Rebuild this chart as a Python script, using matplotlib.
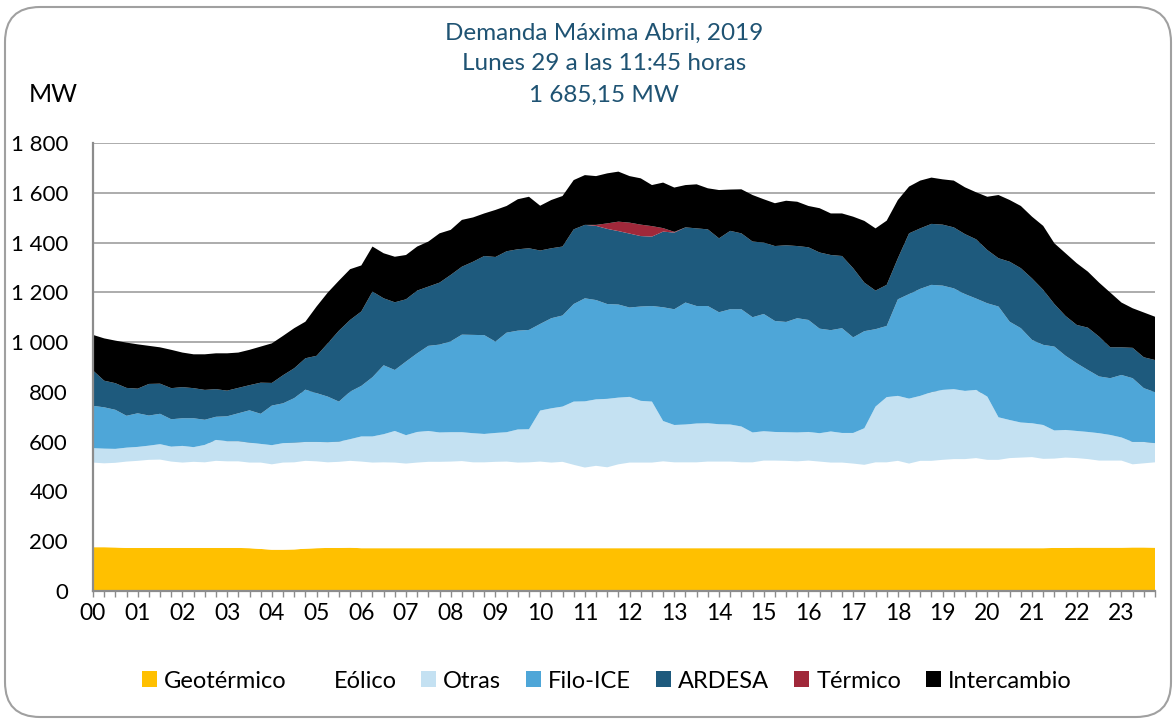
import numpy as np
import matplotlib
matplotlib.use("Agg")
import matplotlib.pyplot as plt
from matplotlib.patches import FancyBboxPatch, Patch

plt.rcParams['font.family'] = ['Lato', 'DejaVu Sans']

# 15-minute intervals, 00:00 .. 23:45 (96 points)
hour_labels = ['00', '01', '02', '03', '04', '05', '06', '07', '08', '09', '10', '11',
               '12', '13', '14', '15', '16', '17', '18', '19', '20', '21', '22', '23']

# Stack levels (MW, cumulative top of each layer)
geotermico_top = [176, 176, 175, 173, 173, 173, 173, 173, 173, 173, 173, 173,
                  173, 173, 172, 169, 166, 166, 167, 170, 172, 173, 173, 174,
                  172, 172, 172, 172, 172, 172, 172, 172, 172, 172, 172, 172,
                  172, 172, 172, 172, 172, 172, 172, 172, 172, 172, 172, 172,
                  172, 172, 172, 172, 172, 172, 172, 172, 172, 172, 172, 172,
                  172, 172, 172, 172, 172, 172, 172, 172, 172, 172, 172, 172,
                  172, 172, 172, 172, 172, 172, 172, 172, 172, 172, 172, 172,
                  172, 172, 173, 173, 174, 174, 174, 174, 174, 175, 175, 174]

eolico_top = [516, 513, 515, 520, 523, 527, 528, 520, 516, 519, 517, 523,
              521, 521, 516, 516, 509, 516, 517, 523, 521, 517, 519, 523,
              520, 516, 517, 516, 512, 516, 519, 519, 520, 522, 517, 517,
              519, 520, 516, 517, 520, 516, 519, 507, 496, 503, 497, 509,
              516, 516, 516, 521, 517, 517, 517, 520, 520, 520, 517, 517,
              524, 524, 523, 521, 524, 520, 516, 516, 512, 507, 517, 517,
              523, 512, 523, 523, 527, 530, 530, 534, 527, 527, 534, 536,
              538, 531, 532, 536, 534, 530, 524, 524, 524, 509, 513, 517]

otras_top = [574, 572, 571, 576, 579, 584, 590, 580, 583, 578, 587, 607,
             602, 602, 596, 591, 586, 594, 596, 599, 599, 598, 600, 610,
             621, 621, 630, 643, 626, 639, 643, 637, 638, 638, 634, 631,
             635, 638, 649, 650, 725, 734, 741, 761, 762, 770, 772, 777,
             780, 764, 761, 683, 667, 669, 673, 674, 670, 669, 661, 637,
             642, 639, 638, 637, 639, 634, 641, 635, 635, 654, 741, 779,
             784, 773, 784, 799, 808, 811, 804, 808, 781, 698, 687, 677,
             674, 667, 645, 647, 643, 639, 634, 627, 617, 599, 599, 594]

filo_top = [744, 738, 728, 704, 714, 705, 712, 690, 694, 694, 688, 700,
            702, 714, 726, 712, 745, 754, 775, 809, 795, 781, 761, 801,
            824, 859, 907, 888, 922, 955, 985, 990, 1003, 1030, 1029, 1028,
            1002, 1038, 1046, 1049, 1073, 1096, 1107, 1153, 1176, 1169, 1153, 1151,
            1139, 1143, 1145, 1140, 1132, 1159, 1145, 1145, 1120, 1132, 1132, 1100,
            1113, 1085, 1081, 1096, 1089, 1054, 1048, 1056, 1019, 1044, 1052, 1065,
            1172, 1193, 1214, 1230, 1227, 1216, 1193, 1175, 1156, 1143, 1082, 1056,
            1009, 989, 982, 945, 915, 888, 862, 855, 868, 855, 815, 799]

ardesa_top = [886, 845, 835, 816, 813, 832, 833, 815, 819, 815, 808, 811,
              805, 816, 827, 837, 836, 867, 895, 935, 945, 995, 1046, 1089,
              1123, 1203, 1176, 1160, 1172, 1207, 1223, 1239, 1270, 1303, 1323, 1346,
              1342, 1365, 1373, 1377, 1368, 1377, 1384, 1453, 1471, 1467, 1455, 1446,
              1436, 1426, 1424, 1444, 1440, 1461, 1457, 1453, 1417, 1447, 1437, 1404,
              1400, 1386, 1389, 1386, 1381, 1360, 1350, 1346, 1297, 1239, 1207, 1230,
              1337, 1437, 1457, 1475, 1472, 1461, 1434, 1413, 1370, 1337, 1323, 1297,
              1256, 1210, 1153, 1105, 1069, 1058, 1022, 979, 979, 977, 939, 928]

termico = [0, 0, 0, 0, 0, 0, 0, 0, 0, 0, 0, 0,
           0, 0, 0, 0, 0, 0, 0, 0, 0, 0, 0, 0,
           0, 0, 0, 0, 0, 0, 0, 0, 0, 0, 0, 0,
           0, 0, 0, 0, 0, 0, 0, 0, 0, 4, 22, 38,
           44, 46, 42, 14, 3, 0, 0, 0, 0, 0, 0, 0,
           0, 0, 0, 0, 0, 0, 0, 0, 0, 0, 0, 0,
           0, 0, 0, 0, 0, 0, 0, 0, 0, 0, 0, 0,
           0, 0, 0, 0, 0, 0, 0, 0, 0, 0, 0, 0]

demanda_total = [1029, 1015, 1006, 998, 991, 985, 979, 969, 958, 951, 951, 955,
                 955, 958, 969, 982, 995, 1025, 1056, 1082, 1143, 1199, 1247, 1293,
                 1308, 1384, 1357, 1343, 1350, 1384, 1404, 1437, 1451, 1491, 1501, 1517,
                 1531, 1547, 1574, 1584, 1548, 1571, 1587, 1651, 1671, 1667, 1678, 1685,
                 1667, 1658, 1631, 1641, 1621, 1631, 1634, 1618, 1611, 1613, 1614, 1591,
                 1574, 1558, 1568, 1564, 1547, 1538, 1517, 1517, 1504, 1487, 1457, 1488,
                 1571, 1625, 1649, 1661, 1654, 1649, 1622, 1602, 1584, 1591, 1571, 1547,
                 1504, 1467, 1397, 1357, 1317, 1283, 1239, 1199, 1159, 1136, 1119, 1102]

y_ticks = [0, 200, 400, 600, 800, 1000, 1200, 1400, 1600, 1800]
y_tick_labels = ['0', '200', '400', '600', '800', '1 000', '1 200', '1 400', '1 600', '1 800']

series_names = ['Geotérmico', 'Eólico', 'Otras', 'Filo-ICE', 'ARDESA', 'Térmico', 'Intercambio']
colors = ['#ffc000', '#ffffff', '#c4e1f2', '#4ea6d8', '#1e5a7d', '#a0283a', '#000000']

# per-source generation from the stacked levels
geo = np.array(geotermico_top, dtype=float)
eol = np.array(eolico_top) - geo
otr = np.array(otras_top) - np.array(eolico_top)
fil = np.array(filo_top) - np.array(otras_top)
ard = np.array(ardesa_top) - np.array(filo_top)
ter = np.array(termico, dtype=float)
itc = np.array(demanda_total) - np.array(ardesa_top) - ter

x = np.arange(len(demanda_total))

fig = plt.figure(figsize=(11.76, 7.22), dpi=100)
ax = fig.add_axes([93 / 1176, 1 - 591 / 722, (1155 - 93) / 1176, (591 - 143) / 722])

ax.stackplot(x, geo, eol, otr, fil, ard, ter, itc, colors=colors, linewidth=0)

ax.set_xlim(0, len(x) - 1)
ax.set_ylim(0, 1800)
ax.set_yticks(y_ticks)
ax.set_yticklabels(y_tick_labels)
ax.yaxis.grid(True, color='#a6a6a6', linewidth=1.3)
ax.set_axisbelow(True)

ax.set_xticks(x, minor=True)
ax.set_xticks(x[::4])
ax.set_xticklabels(hour_labels)

for side in ['top', 'right']:
    ax.spines[side].set_visible(False)
for side in ['left', 'bottom']:
    ax.spines[side].set_color('#8c8c8c')
    ax.spines[side].set_linewidth(1.6)

ax.tick_params(axis='y', length=0, pad=18, labelsize=16, labelcolor='black')
ax.tick_params(axis='x', which='both', direction='out', length=4, color='#8c8c8c',
               width=1, pad=5, labelsize=16.5)

# titles
title_color = '#1f5373'
fig.text(0.514, 1 - 33 / 722, 'Demanda Máxima Abril, 2019', ha='center', va='center',
         fontsize=17.5, color=title_color)
fig.text(0.514, 1 - 63 / 722, 'Lunes 29 a las 11:45 horas', ha='center', va='center',
         fontsize=17.5, color=title_color)
fig.text(0.514, 1 - 95 / 722, '1 685,15 MW', ha='center', va='center',
         fontsize=17.5, color=title_color)
fig.text(53 / 1176, 1 - 94 / 722, 'MW', ha='center', va='center', fontsize=18)

handles = [Patch(facecolor=c, edgecolor='none') for c in colors]
fig.legend(handles, series_names, loc='center', bbox_to_anchor=(0.516, 1 - 681 / 722),
           ncol=7, frameon=False, fontsize=17, handlelength=0.64, handleheight=0.64,
           handletextpad=0.3, columnspacing=1.05)

# rounded outer border
border = FancyBboxPatch((0.05, 0.05), 11.66, 7.1,
                        boxstyle='round,pad=0,rounding_size=0.35',
                        transform=fig.dpi_scale_trans, facecolor='none',
                        edgecolor='#a0a0a0', linewidth=1.5)
fig.patches.append(border)

fig.savefig('out.png', dpi=100)
